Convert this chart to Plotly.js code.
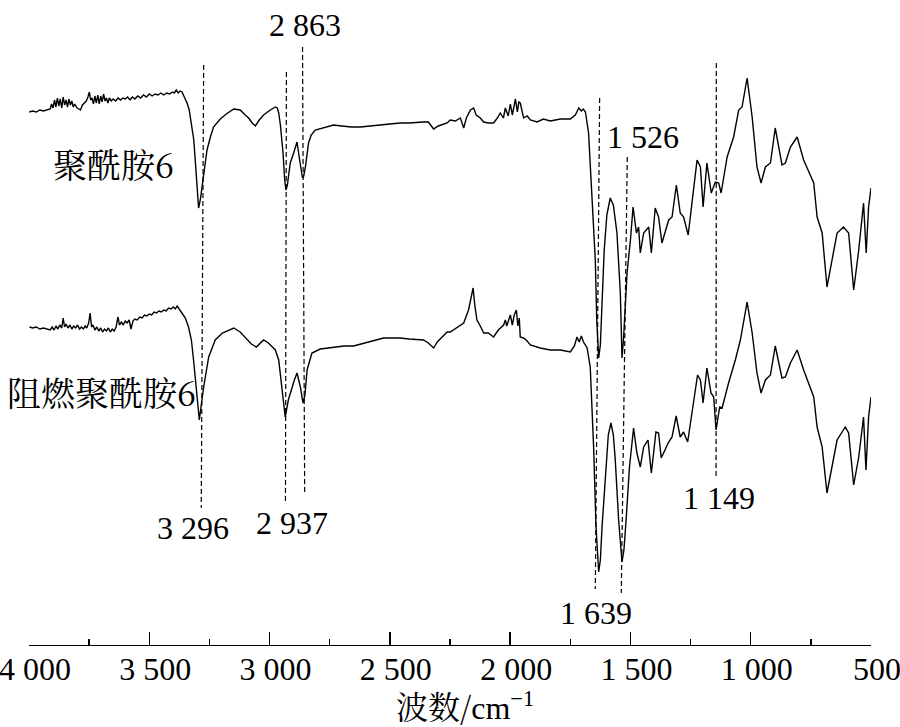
<!DOCTYPE html>
<html><head><meta charset="utf-8">
<script src="https://cdn.plot.ly/plotly-3.0.1.min.js"></script>
<style>html,body{margin:0;padding:0;background:#fff}#chart{width:900px;height:727px}</style>
</head><body><div id="chart"></div>
<script>
// Wavenumber (cm-1) and relative transmittance (arbitrary units)
const wnTop = [3999,3985,3970,3955,3940,3925,3912,3906,3900,3894,3888,3882,3876,3870,3864,3858,3852,3846,3840,3834,3828,3822,3816,3810,3800,3792,3786,3778,3770,3762,3755,3749,3744,3738,3732,3726,3720,3714,3708,3702,3696,3690,3684,3678,3672,3666,3658,3650,3640,3630,3620,3610,3600,3590,3580,3570,3560,3548,3536,3524,3512,3500,3488,3476,3464,3452,3440,3428,3416,3404,3396,3388,3380,3372,3364,3356,3343,3334,3322,3315,3309,3300,3295,3288,3281,3271,3260,3246,3233,3205,3180,3149,3122,3101,3087,3072,3059,3043,3025,2997,2976,2968,2962,2955,2944,2937,2932,2926,2914,2900,2886,2875,2868,2863,2858,2851,2838,2827,2810,2768,2734,2700,2660,2623,2590,2560,2540,2500,2457,2420,2380,2361,2340,2318,2299,2262,2249,2228,2207,2193,2182,2165,2152,2141,2124,2110,2091,2069,2053,2041,2028,2020,2008,1999,1991,1978,1970,1964,1958,1944,1929,1916,1888,1862,1833,1791,1750,1729,1715,1704,1696,1687,1674,1660,1646,1640,1632,1625,1617,1609,1598,1584,1571,1556,1542,1535,1529,1521,1514,1500,1489,1475,1466,1459,1445,1424,1413,1397,1383,1369,1341,1327,1309,1293,1279,1260,1244,1223,1209,1198,1182,1164,1147,1133,1123,1098,1071,1050,1036,1015,994,974,957,939,918,898,870,856,835,807,780,738,724,703,683,662,641,614,593,572,551,531,520,510,500];
const valTop = [533,534,533,535,534,535,536,541,537,545,538,547,539,546,537,548,540,545,538,546,540,544,538,541,537,536,535,540,542,544,548,553,545,547,541,549,542,550,541,549,543,551,544,547,542,547,544,546,544,547,545,547,546,548,545,548,546,549,547,550,548,551,549,551,550,552,550,552,551,553,552,555,552,554,553,549,542,535,518,505,485,455,437,445,458,477,495,508,518,526,531,536,535,530,527,522,519,525,530,535,538,537,532,520,492,465,455,460,482,492,503,485,473,467,469,478,502,510,515,518,520,519,518,518,519,520,520,521,522,522,523,523,523,516,519,522,525,524,527,517,527,535,537,530,527,523,522,522,527,532,527,537,529,541,530,546,533,543,542,527,529,525,523,526,524,526,526,530,537,534,536,533,512,452,385,325,287,300,345,395,430,447,440,412,352,287,305,335,372,405,438,412,418,392,412,418,392,437,428,402,425,428,460,432,428,410,442,485,478,438,482,452,463,462,452,488,508,535,538,567,528,478,462,478,482,517,480,482,498,508,485,462,428,412,358,385,412,418,412,355,395,442,392,438,457];

const wnBottom = [3998,3985,3970,3955,3940,3925,3912,3904,3896,3888,3880,3872,3864,3858,3852,3846,3838,3830,3822,3814,3806,3798,3790,3782,3774,3766,3760,3752,3746,3740,3734,3726,3718,3710,3702,3694,3686,3678,3670,3662,3654,3646,3638,3630,3624,3616,3608,3600,3592,3584,3576,3568,3560,3550,3540,3530,3520,3510,3500,3490,3480,3470,3460,3450,3440,3430,3420,3410,3400,3392,3384,3376,3364,3350,3337,3325,3316,3305,3292,3284,3274,3253,3226,3196,3149,3122,3094,3076,3055,3025,3005,2990,2976,2962,2951,2943,2935,2922,2907,2897,2886,2872,2861,2853,2844,2824,2789,2727,2690,2651,2620,2581,2550,2526,2490,2457,2420,2360,2340,2318,2303,2280,2262,2249,2224,2193,2173,2163,2154,2147,2138,2124,2110,2091,2069,2049,2027,2020,2014,2006,1999,1991,1983,1974,1968,1962,1958,1945,1933,1916,1875,1833,1791,1750,1733,1722,1713,1704,1695,1680,1667,1653,1643,1632,1625,1618,1601,1592,1581,1571,1563,1549,1535,1527,1518,1504,1487,1473,1459,1445,1427,1413,1394,1383,1372,1341,1327,1310,1293,1279,1262,1244,1221,1209,1198,1182,1165,1154,1144,1129,1119,1092,1064,1043,1031,1015,994,974,957,939,918,898,870,856,835,807,780,738,724,703,683,662,641,607,593,572,551,531,521,510,500];
const valBottom = [318,317,318,316,317,316,315,318,315,319,316,320,317,327,318,321,317,320,316,319,317,320,316,318,316,319,317,322,332,318,320,315,318,314,317,313,316,314,317,313,316,314,318,328,320,323,320,324,322,325,316,324,326,325,328,327,330,329,331,330,333,332,334,333,335,334,337,336,338,336,339,336,332,327,318,305,285,255,225,240,258,288,305,312,317,313,305,301,298,305,302,298,295,285,260,240,228,245,258,265,272,258,242,250,275,292,296,298,299,299,301,303,305,307,307,307,306,305,302,297,303,309,313,313,317,322,335,345,357,340,325,319,312,312,308,315,320,325,319,325,330,320,330,335,319,327,308,307,305,300,297,295,295,293,299,308,303,309,303,297,278,198,118,73,85,118,185,210,222,210,185,125,83,95,125,178,217,192,178,198,205,172,213,212,187,203,208,229,208,213,203,232,270,265,242,277,252,248,215,238,237,262,285,305,320,343,312,272,252,265,270,299,267,268,282,295,275,248,218,198,152,178,205,218,212,160,188,228,175,228,248];

const tickValues = [4000,3500,3000,2500,2000,1500,1000,500];
const tickLabels = ['4 000','3 500','3 000','2 500','2 000','1 500','1 000','500'];

const seriesNames = ['聚酰胺6','阻燃聚酰胺6'];

// Peak labels
const peakLabels = ['2 863','1 526','3 296','2 937','1 149','1 639'];
const peakLabelWn = [2854,1446,3319,2907,1130,1643];
const peakLabelVal = [620,508,117,122,147,32];

// Dashed guide lines (wavenumber / level at top and bottom ends)
const guideWnTop = [3274,2930,2863,1628,1513,1143];
const guideValTop = [580,573,598,547,488,582];
const guideWnBottom = [3284,2934,2854,1646,1538,1144];
const guideValBottom = [137,142,150,56,52,168];

const numFont = {family:'Liberation Serif', size:32, color:'#000'};
const cjkFont = {family:'Noto Serif CJK SC', size:34, color:'#000'};
const titleFont = {family:'Noto Serif CJK SC', size:32, color:'#000'};

const traces = [
  {x: wnTop, y: valTop, type:'scatter', mode:'lines', name: seriesNames[0], line:{color:'#000', width:1.4}},
  {x: wnBottom, y: valBottom, type:'scatter', mode:'lines', name: seriesNames[1], line:{color:'#000', width:1.4}}
];

const shapes = guideWnTop.map((w,i)=>({type:'line', xref:'x', yref:'y', x0:w, y0:guideValTop[i], x1:guideWnBottom[i], y1:guideValBottom[i], line:{color:'#000', width:1.2, dash:'5px,3px'}}));

const annotations = peakLabels.map((t,i)=>({text:t, x:peakLabelWn[i], y:peakLabelVal[i], xref:'x', yref:'y', showarrow:false, font:numFont, xanchor:'center', yanchor:'middle'}));
annotations.push({text:seriesNames[0], xref:'paper', yref:'y', x:0.026, y:482, xanchor:'left', yanchor:'middle', showarrow:false, font:cjkFont});
annotations.push({text:seriesNames[1], xref:'paper', yref:'y', x:-0.029, y:254, xanchor:'left', yanchor:'middle', showarrow:false, font:cjkFont});
annotations.push({text:'波数/<span style="font-family:Liberation Serif">cm<sup>−1</sup></span>', xref:'x', yref:'paper', x:2186, y:-0.093, xanchor:'center', yanchor:'middle', showarrow:false, font:titleFont});

const layout = {
  width:900, height:727,
  margin:{l:28.7, r:29.3, t:0, b:82},
  paper_bgcolor:'#fff', plot_bgcolor:'#fff',
  showlegend:false,
  xaxis:{
    range:[4000,500], tickvals:tickValues, ticktext:tickLabels,
    showline:true, linecolor:'#000', linewidth:1.3, mirror:false,
    ticks:'inside', ticklen:12.7, tickwidth:1.3, tickcolor:'#000',
    minor:{ticks:'inside', ticklen:6, dtick:250, tickwidth:1.3, tickcolor:'#000', showgrid:false},
    showgrid:false, zeroline:false, tickfont:numFont,
    ticklabeloverflow:'allow', ticklabelstandoff:-5, ticklabelshift:-6
  },
  yaxis:{range:[0,645], visible:false, showgrid:false, zeroline:false},
  shapes: shapes,
  annotations: annotations
};
Plotly.newPlot('chart', traces, layout, {displayModeBar:false, staticPlot:true});
</script></body></html>
